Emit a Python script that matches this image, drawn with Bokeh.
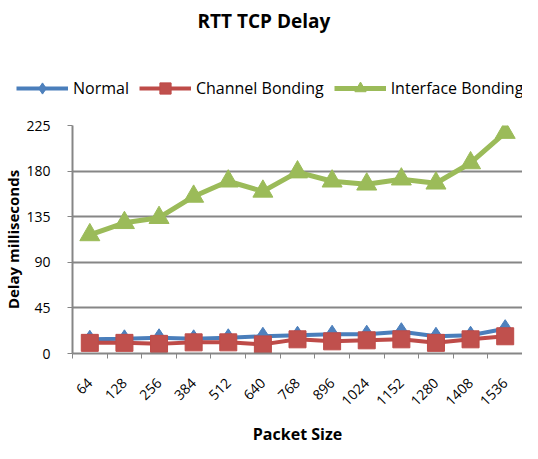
from bokeh.plotting import figure
from bokeh.layouts import column
from bokeh.models import (Range1d, FixedTicker, Legend, LegendItem)
from bokeh.embed import file_html
from bokeh.resources import INLINE
import math

packet_sizes = ["64", "128", "256", "384", "512", "640", "768", "896", "1024", "1152", "1280", "1408", "1536"]
normal = [14, 14.5, 15.5, 14.5, 15.5, 17, 18, 19, 19, 21.5, 17, 18, 24.5]
channel_bonding = [10.5, 10.5, 9.5, 11, 11, 9, 14, 12, 13, 14, 10.5, 14, 17]
interface_bonding = [117, 129, 134, 155, 170, 160, 179, 170, 167, 172, 168, 188, 218]
y_ticks = [0, 45, 90, 135, 180, 225]
series_names = ["Normal", "Channel Bonding", "Interface Bonding"]

FONT = "Open Sans"
GRAY = "#868686"
xs = list(range(len(packet_sizes)))

blue = "#4A7EBB"
red = "#BE4B48"
green = "#9BBB59"
styles = [
    dict(color=blue, fill="#4F81BD", marker="diamond", size=18, lw=4),
    dict(color=red, fill="#C0504D", marker="square", size=17, lw=4),
    dict(color=green, fill=green, marker="triangle", size=20, lw=5),
]
values = [normal, channel_bonding, interface_bonding]


def draw(fig):
    out = []
    for vals, st in zip(values, styles):
        ln = fig.line(xs, vals, line_color=st["color"], line_width=st["lw"])
        mk = fig.scatter(xs, vals, marker=st["marker"], size=st["size"],
                         fill_color=st["fill"], line_color=st["color"])
        out.append((ln, mk))
    return out


# ---------- header: title + legend ----------
top = figure(width=522, height=110, output_backend="svg", toolbar_location=None,
             x_range=Range1d(-0.5, len(packet_sizes) - 0.5), y_range=Range1d(1000, 1100),
             x_axis_location=None, y_axis_location=None,
             min_border_left=0, min_border_right=0, min_border_top=0, min_border_bottom=0)
top.frame_align = False
top.outline_line_color = None
top.grid.grid_line_color = None
top.title.text = "RTT TCP Delay"
top.title.align = "left"
top.title.offset = 197
top.title.text_font = FONT
top.title.text_font_size = "19px"
top.title.text_font_style = "bold"
top.title.text_color = "black"

hdr = draw(top)
legend = Legend(items=[LegendItem(label=n, renderers=list(r)) for n, r in zip(series_names, hdr)],
                orientation="horizontal", location=(16, 8))
legend.label_text_font = FONT
legend.label_text_font_size = "16px"
legend.label_text_color = "black"
legend.glyph_width = 52
legend.glyph_height = 28
legend.spacing = 10
legend.label_standoff = 5
legend.padding = 0
legend.margin = 0
legend.border_line_color = None
legend.background_fill_alpha = 0
top.add_layout(legend, "center")

# ---------- main chart ----------
p = figure(width=522, height=340, output_backend="svg", toolbar_location=None,
           x_range=Range1d(-0.5, len(packet_sizes) - 0.5), y_range=Range1d(0, 225),
           min_border_left=69, min_border_right=0, min_border_bottom=97, min_border_top=15)
p.frame_align = False
p.outline_line_color = None

xa = p.xaxis[0]
xa.ticker = FixedTicker(ticks=xs, minor_ticks=[i - 0.5 for i in range(len(packet_sizes) + 1)])
xa.major_label_overrides = {i: s for i, s in enumerate(packet_sizes)}
xa.major_label_orientation = math.pi / 4
xa.major_tick_out = 0
xa.major_tick_in = 0
xa.minor_tick_out = 5
xa.minor_tick_in = 0
xa.minor_tick_line_color = GRAY
xa.axis_line_color = GRAY
xa.axis_line_width = 2
xa.major_label_text_font = FONT
xa.major_label_text_font_size = "14px"
xa.major_label_text_color = "black"
xa.major_label_standoff = 22
xa.axis_label = "Packet Size"
xa.axis_label_text_font = FONT
xa.axis_label_text_font_size = "16px"
xa.axis_label_text_font_style = "bold"
xa.axis_label_text_color = "black"
xa.axis_label_standoff = 10

ya = p.yaxis[0]
ya.ticker = FixedTicker(ticks=y_ticks)
ya.major_tick_out = 5
ya.major_tick_in = 0
ya.minor_tick_out = 0
ya.minor_tick_in = 0
ya.major_tick_line_color = GRAY
ya.axis_line_color = GRAY
ya.axis_line_width = 2
ya.major_label_text_font = FONT
ya.major_label_text_font_size = "14px"
ya.major_label_text_color = "black"
ya.major_label_standoff = 17
ya.axis_label = "Delay milliseconds"
ya.axis_label_text_font = FONT
ya.axis_label_text_font_size = "15px"
ya.axis_label_text_font_style = "bold"
ya.axis_label_text_color = "black"
ya.axis_label_standoff = 0

p.xgrid.grid_line_color = None
p.ygrid.grid_line_color = GRAY
p.ygrid.grid_line_width = 2

draw(p)

layout = column(top, p, spacing=0)
open("out.html", "w").write(file_html(layout, INLINE))
